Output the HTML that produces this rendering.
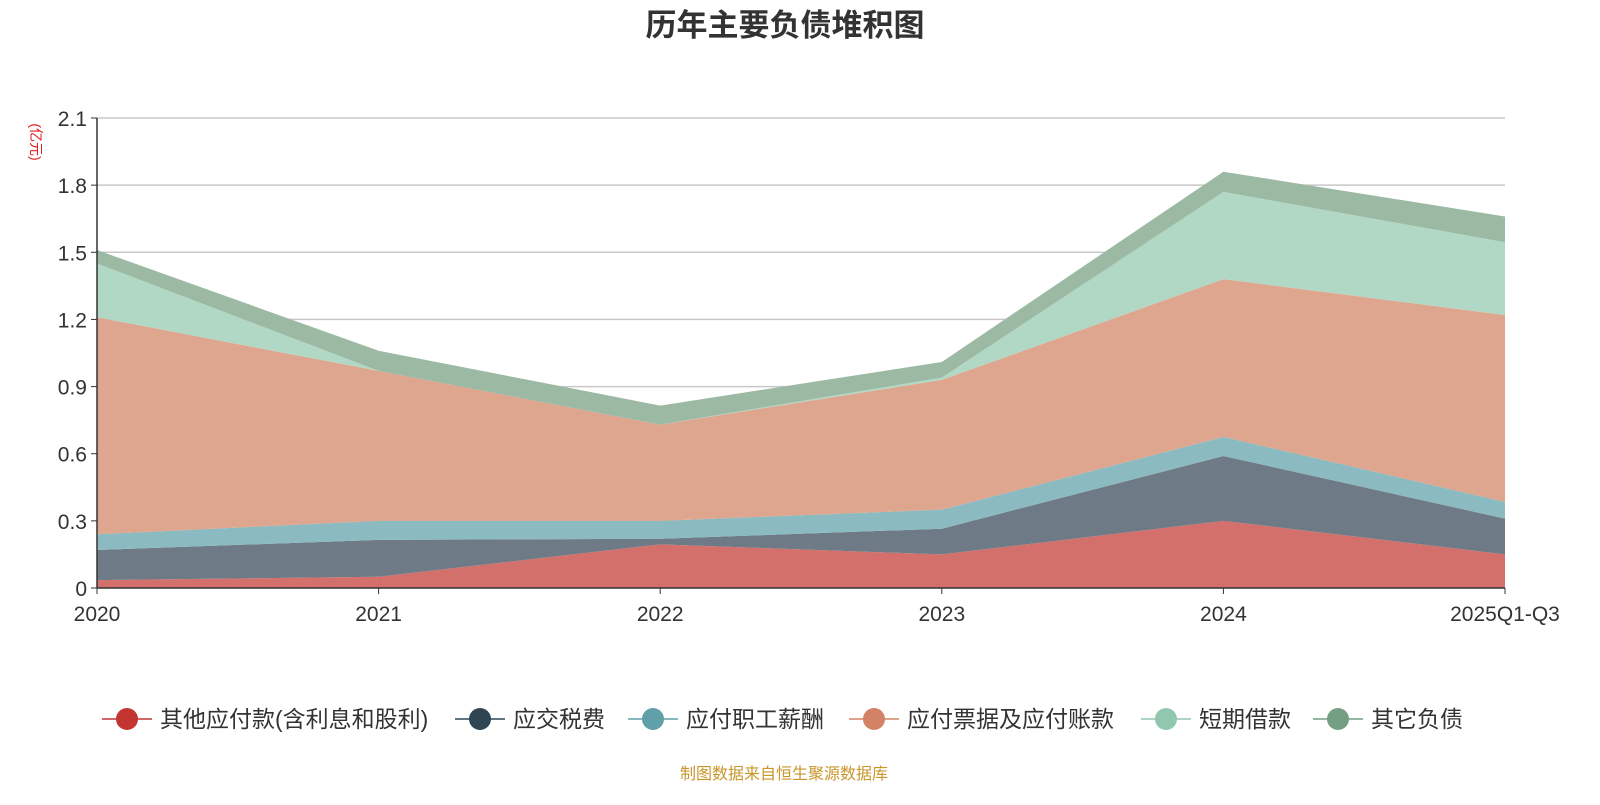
<!DOCTYPE html>
<html><head><meta charset="utf-8"><style>
body{margin:0;width:1600px;height:800px;background:#fff;overflow:hidden;font-family:"Liberation Sans","Noto Sans CJK SC",sans-serif}
</style></head><body>
<svg id="chart" width="1600" height="800" xmlns="http://www.w3.org/2000/svg" font-family="'Liberation Sans','Noto Sans CJK SC',sans-serif">
<text x="785" y="36" text-anchor="middle" font-size="31" font-weight="bold" fill="#333">历年主要负债堆积图</text>
<text x="0" y="0" transform="translate(31,142) rotate(90)" text-anchor="middle" font-size="14" fill="#e02020">(亿元)</text>
<g id="grid"></g><g id="areas"></g><g id="axes"></g><g id="legend"></g>
<text x="784" y="779" text-anchor="middle" font-size="16" fill="#c8962a">制图数据来自恒生聚源数据库</text>
</svg>
<script>
const categories=["2020","2021","2022","2023","2024","2025Q1-Q3"];
const seriesNames=["其他应付款(含利息和股利)","应交税费","应付职工薪酬","应付票据及应付账款","短期借款","其它负债"];
const otherPayable=[0.035,0.05,0.195,0.15,0.30,0.15];
const taxPayable=[0.135,0.165,0.025,0.115,0.29,0.16];
const salaryPayable=[0.07,0.085,0.08,0.085,0.085,0.075];
const accountsPayable=[0.97,0.67,0.43,0.58,0.705,0.835];
const shortLoans=[0.24,0.0,0.0,0.01,0.39,0.325];
const otherLiab=[0.06,0.09,0.085,0.07,0.09,0.115];
const yTicks=[0,0.3,0.6,0.9,1.2,1.5,1.8,2.1];
const fills=["#d4706c","#6e7b86","#8bbac0","#dfa68f","#b0d8c5","#9cb9a4"];
const colors=["#c23531","#2f4554","#61a0a8","#d48265","#91c7ae","#749f83"];
const series=[otherPayable,taxPayable,salaryPayable,accountsPayable,shortLoans,otherLiab];
const NS="http://www.w3.org/2000/svg";
const x0=97,x1=1505,y0=588,yTop=118,yMax=2.1;
const xs=i=>x0+i*(x1-x0)/(categories.length-1);
const ys=v=>y0-v/yMax*(y0-yTop);
function mk(tag,attrs,parent){const e=document.createElementNS(NS,tag);for(const k in attrs)e.setAttribute(k,attrs[k]);parent.appendChild(e);return e;}
const grid=document.getElementById('grid'),axes=document.getElementById('axes'),areas=document.getElementById('areas'),legend=document.getElementById('legend');
yTicks.forEach(t=>{
 if(t>0){const l=mk('line',{x1:x0,x2:x1,y1:ys(t),y2:ys(t),stroke:'#c8c8c8','stroke-width':1.5},grid);
 
 }
 const tx=mk('text',{x:x0-10,y:ys(t)+8,'text-anchor':'end','font-size':21,fill:'#333'},axes);tx.textContent=String(t);
 
 
 const tk=mk('line',{x1:x0-6,x2:x0,y1:ys(t),y2:ys(t),stroke:'#333'},axes);
 
 
});
let base=categories.map(()=>0);
series.forEach((s,si)=>{
 const top=base.map((b,i)=>b+s[i]);
 let d='M'+categories.map((c,i)=>xs(i)+','+ys(top[i])).join(' L');
 for(let i=categories.length-1;i>=0;i--)d+=' L'+xs(i)+','+ys(base[i]);
 const p=mk('path',{d:d+' Z',fill:fills[si]},areas);
 
 
 base=top;
});
const ya=mk('line',{x1:x0,x2:x0,y1:yTop,y2:y0,stroke:'#333','stroke-width':1.5},axes);


const xa=mk('line',{x1:x0,x2:x1,y1:y0,y2:y0,stroke:'#333','stroke-width':1.5},axes);


categories.forEach((c,i)=>{
 const t=mk('text',{x:xs(i),y:621,'text-anchor':'middle','font-size':21,fill:'#333'},axes);t.textContent=c;
 
 
 const tk=mk('line',{x1:xs(i),x2:xs(i),y1:y0,y2:y0+6,stroke:'#333'},axes);
 
 
});
const lx=[102,455,628,849,1141,1313];
seriesNames.forEach((n,i)=>{
 const g=mk('g',{},legend);
 
 
 mk('line',{x1:lx[i],x2:lx[i]+50,y1:719,y2:719,stroke:colors[i],'stroke-width':1.5},g);
 mk('circle',{cx:lx[i]+25,cy:719,r:11,fill:colors[i]},g);
 const t=mk('text',{x:lx[i]+58,y:727,'font-size':23,fill:'#333'},g);t.textContent=n;
});
</script>
</body></html>
